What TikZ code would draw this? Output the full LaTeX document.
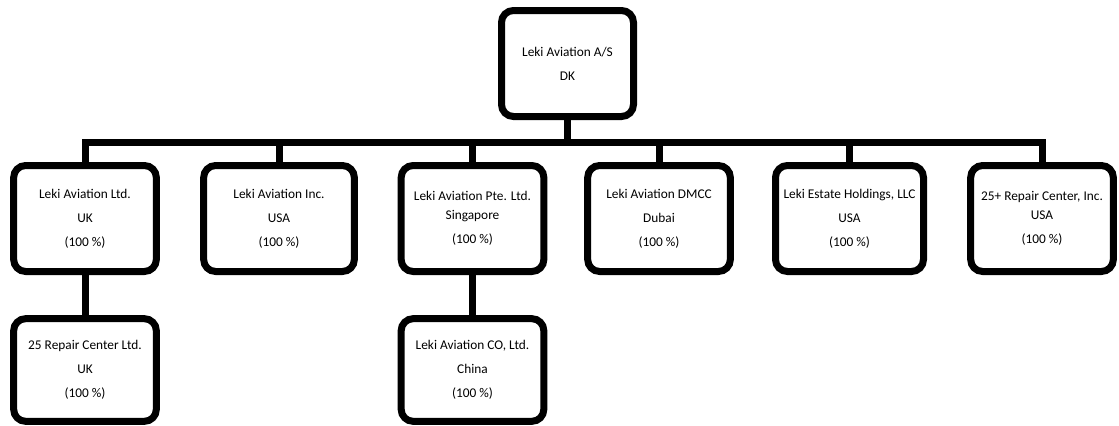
\documentclass[tikz,border=0pt]{standalone}
\usepackage{fontspec}
\setmainfont{Carlito}
\usepackage{tikz}

\tikzset{
  unit/.style={draw, line width=5.25pt, rounded corners=9pt, fill=white, align=center,
    minimum width=107pt, minimum height=79.5pt, inner sep=0.75pt,
    font=\fontsize{10}{18}\selectfont},
  link/.style={line width=5.25pt},
}

\begin{document}
\begin{tikzpicture}[x=0.75pt,y=0.75pt,yscale=-1,xscale=1]
        \useasboundingbox (0,0) rectangle (1119,425);

        % Parent
        \node [unit, minimum width=99pt] (parent) at (567.5,63.5) {Leki Aviation A/S\\DK};
        % Subsidiaries
        \node [unit] (ltd) at (85,218.5) {Leki Aviation Ltd.\\UK\\(100 \%)};
        \node [unit, minimum width=113pt] (inc) at (279,218.5) {Leki Aviation Inc.\\USA\\(100 \%)};
        \node [unit] (pte) at (472.5,218.5) {Leki Aviation Pte. Ltd.\\[-4pt]Singapore\\(100 \%)};
        \node [unit] (dmcc) at (659,218.5) {Leki Aviation DMCC\\Dubai\\(100 \%)};
        \node [unit, minimum width=111pt] (estate) at (849.5,218.5) {Leki Estate Holdings, LLC\\USA\\(100 \%)};
        \node [unit] (repair) at (1042,218.5) {25+ Repair Center, Inc.\\[-4pt]USA\\(100 \%)};
        % Second level
        \node [unit, minimum height=77pt] (rcltd) at (85,370) {25 Repair Center Ltd.\\UK\\(100 \%)};
        \node [unit, minimum height=77pt] (china) at (472.5,370) {Leki Aviation CO, Ltd.\\China\\(100 \%)};

        % Bus
        \coordinate (bus) at (567.5,142);
        \draw [link] (parent.south) -- (parent.south |- bus);
        \draw [link] (ltd.north) |- (repair.north |- bus) -- (repair.north);
        \foreach \n in {inc,pte,dmcc,estate}
          \draw [link] (\n.north) -- (\n.north |- bus);
        % Stems
        \draw [link] (ltd.south) -- (rcltd.north);
        \draw [link] (pte.south) -- (china.north);

\end{tikzpicture}
\end{document}
